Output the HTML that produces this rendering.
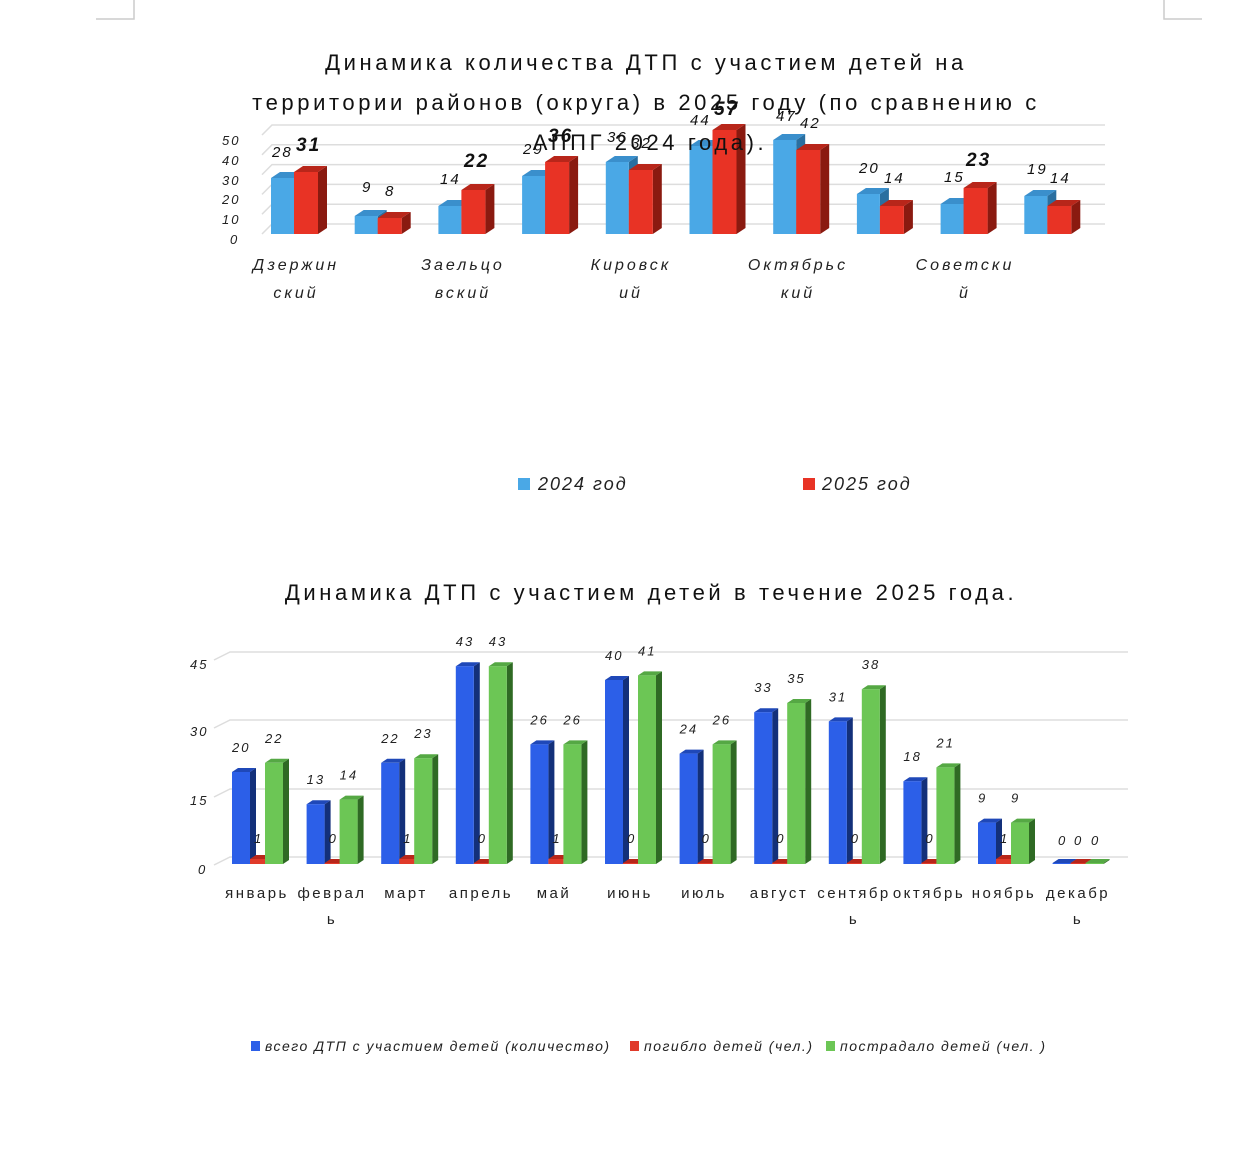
<!DOCTYPE html>
<html><head><meta charset="utf-8"><style>
html,body{margin:0;padding:0;background:#fff;}
svg{display:block;font-family:"Liberation Sans","DejaVu Sans",sans-serif;}
.t{font-size:22px;letter-spacing:3.6px;fill:#111;}
.ax{font-size:13px;font-style:italic;fill:#222;letter-spacing:2px;}
.v{font-size:15px;font-style:italic;fill:#111;letter-spacing:2px;}
.b{font-size:19px;font-weight:bold;fill:#111;}
.c{font-size:16px;font-style:italic;fill:#222;letter-spacing:3px;}
.m{font-size:15px;fill:#222;letter-spacing:2.5px;}
.v2{font-size:13px;font-style:italic;fill:#222;letter-spacing:2px;}
.lg{font-size:18px;font-style:italic;fill:#222;letter-spacing:2px;}
.lg2{font-size:14px;font-style:italic;fill:#222;letter-spacing:1.5px;}
</style></head><body>
<svg id="s" width="1260" height="1164" viewBox="0 0 1260 1164">
<path d="M134 0V19H96M1164 0V19H1202" stroke="#ccc" stroke-width="1.5" fill="none"/>
<g id="g1"></g>
<text class="t" x="646" y="70" text-anchor="middle">Динамика количества ДТП с участием детей на</text>
<text class="t" x="646" y="110" text-anchor="middle">территории районов (округа) в 2025 году (по сравнению с</text>
<text class="t" x="650" y="150" text-anchor="middle">АППГ 2024 года).</text>
<g class="ax">
<text x="222" y="145">50</text><text x="222" y="165">40</text><text x="222" y="185">30</text><text x="222" y="204">20</text><text x="222" y="224">10</text><text x="230" y="244">0</text>
</g>
<g class="v">
<text x="272" y="157">28</text><text class="b" x="296" y="151">31</text>
<text x="362" y="192">9</text><text x="385" y="196">8</text>
<text x="440" y="184">14</text><text class="b" x="464" y="167">22</text>
<text x="523" y="154">29</text><text class="b" x="548" y="142">36</text>
<text x="607" y="142">36</text><text x="631" y="148">32</text>
<text x="690" y="125">44</text><text class="b" x="714" y="115">57</text>
<text x="776" y="121">47</text><text x="800" y="128">42</text>
<text x="859" y="173">20</text><text x="884" y="183">14</text>
<text x="944" y="182">15</text><text class="b" x="966" y="166">23</text>
<text x="1027" y="174">19</text><text x="1050" y="183">14</text>
</g>
<g class="c" text-anchor="middle">
<text x="296" y="270">Дзержин</text><text x="296" y="298">ский</text>
<text x="463" y="270">Заельцо</text><text x="463" y="298">вский</text>
<text x="631" y="270">Кировск</text><text x="631" y="298">ий</text>
<text x="798" y="270">Октябрьс</text><text x="798" y="298">кий</text>
<text x="965" y="270">Советски</text><text x="965" y="298">й</text>
</g>
<rect x="518" y="478" width="12" height="12" fill="#4aa8e6"/><text class="lg" x="538" y="490">2024 год</text>
<rect x="803" y="478" width="12" height="12" fill="#e83325"/><text class="lg" x="822" y="490">2025 год</text>

<text class="t" x="651" y="600" text-anchor="middle">Динамика ДТП с участием детей в течение 2025 года.</text>
<g id="g2"></g>
<g class="ax">
<text x="190" y="669">45</text><text x="190" y="736">30</text><text x="190" y="805">15</text><text x="198" y="874">0</text>
</g>
<g class="v2" id="lab2">
<text x="1058" y="845">0</text><text x="1074" y="845">0</text><text x="1091" y="845">0</text>
</g>
<g class="m" text-anchor="middle">
<text x="257" y="898">январь</text><text x="332" y="898">феврал</text><text x="332" y="924">ь</text>
<text x="406" y="898">март</text><text x="481" y="898">апрель</text><text x="554" y="898">май</text>
<text x="630" y="898">июнь</text><text x="704" y="898">июль</text><text x="779" y="898">август</text>
<text x="854" y="898">сентябр</text><text x="854" y="924">ь</text>
<text x="929" y="898">октябрь</text><text x="1004" y="898">ноябрь</text>
<text x="1078" y="898">декабр</text><text x="1078" y="924">ь</text>
</g>
<rect x="251" y="1041" width="9" height="10" fill="#2c5fe8"/><text class="lg2" x="265" y="1051">всего ДТП с участием детей (количество)</text>
<rect x="630" y="1041" width="9" height="10" fill="#e03a2a"/><text class="lg2" x="644" y="1051">погибло детей (чел.)</text>
<rect x="826" y="1041" width="9" height="10" fill="#6cc655"/><text class="lg2" x="840" y="1051">пострадало детей (чел. )</text>
</svg>
<script>
var NS="http://www.w3.org/2000/svg";
function el(g,t,a){var e=document.createElementNS(NS,t);for(var k in a)e.setAttribute(k,a[k]);g.appendChild(e);return e;}
function bar(g,x,y0,w,h,dx,dy,f,s,t){
 var y=y0-h;
 el(g,'polygon',{points:(x+w)+','+y+' '+(x+w+dx)+','+(y-dy)+' '+(x+w+dx)+','+(y0-dy)+' '+(x+w)+','+y0,fill:s});
 el(g,'polygon',{points:x+','+y+' '+(x+dx)+','+(y-dy)+' '+(x+w+dx)+','+(y-dy)+' '+(x+w)+','+y,fill:t});
 el(g,'rect',{x:x,y:y,width:w,height:h,fill:f});
}
var g1=document.getElementById('g1');
for(var i=0;i<6;i++){var y=224-i*19.8;el(g1,'path',{d:'M262 '+(y+10)+'L272 '+y+'H1105',stroke:'#ddd','stroke-width':1.5,fill:'none'});}
var B=[28,9,14,29,36,44,47,20,15,19],R=[31,8,22,36,32,52,42,14,23,14];
for(var i=0;i<10;i++){var c=295+83.7*i;
 bar(g1,c-24,234,23,B[i]*2,9,6,'#4aa8e6','#2a6fa0','#3a8fcc');
 bar(g1,c-1,234,24,R[i]*2,9,6,'#e83325','#8a1a10','#b8261a');}
var g2=document.getElementById('g2');
var gy=[857,789,720,652];
for(var i=0;i<4;i++)el(g2,'path',{d:'M214 '+(gy[i]+8)+'L230 '+gy[i]+'H1128',stroke:'#ddd','stroke-width':1.5,fill:'none'});
var A=[20,13,22,43,26,40,24,33,31,18,9,0],D=[1,0,1,0,1,0,0,0,0,0,1,0],G=[22,14,23,43,26,41,26,35,38,21,9,0];
var lab=document.getElementById('lab2');
for(var i=0;i<12;i++){var c=257+74.6*i;
 bar(g2,c-25,864,18,Math.max(A[i]*4.6,1),6,4,'#2c5fe8','#13307a','#1f48b8');
 bar(g2,c-7,864,15,D[i]?5:1,6,4,'#e03a2a','#8a1a10','#b8261a');
 bar(g2,c+8,864,18,Math.max(G[i]*4.6,1),6,4,'#6cc655','#2f6a24','#55a844');
 if(i<11){
 var t=el(lab,'text',{x:c-25,y:864-A[i]*4.6-20});t.textContent=A[i];
 t=el(lab,'text',{x:c-3,y:843});t.textContent=D[i];
 t=el(lab,'text',{x:c+8,y:864-G[i]*4.6-20});t.textContent=G[i];}
}
</script>
</body></html>
